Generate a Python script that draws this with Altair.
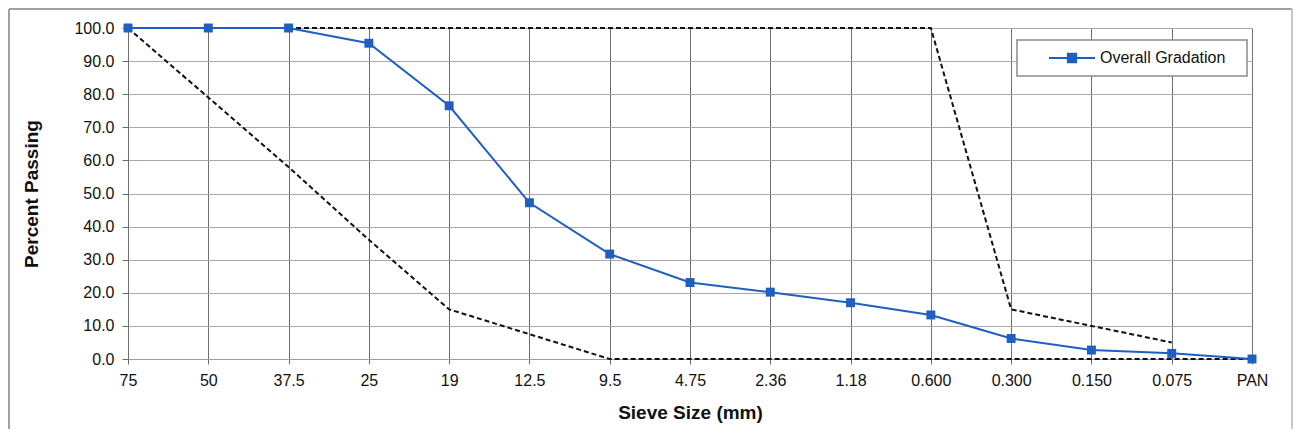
import altair as alt
import pandas as pd

# ---- data ----
sieves = ["75", "50", "37.5", "25", "19", "12.5", "9.5", "4.75", "2.36",
          "1.18", "0.600", "0.300", "0.150", "0.075", "PAN"]
overall = [100.0, 100.0, 100.0, 95.4, 76.5, 47.2, 31.7, 23.1, 20.2,
           17.0, 13.3, 6.2, 2.7, 1.7, 0.0]
upper_sieves = ["75", "50", "37.5", "25", "19", "12.5", "9.5", "4.75", "2.36",
                "1.18", "0.600", "0.300", "0.150", "0.075"]
upper_limit = [100, 100, 100, 100, 100, 100, 100, 100, 100, 100, 100, 15, 10, 5]
lower_sieves = sieves
lower_limit = [100, 79, 58, 36, 15, 7.5, 0, 0, 0, 0, 0, 0, 0, 0, 0]
y_ticks = [0, 10, 20, 30, 40, 50, 60, 70, 80, 90, 100]
series_name = "Overall Gradation"

BLUE = "#1f5fc0"
FONT = "Liberation Sans"

df_overall = pd.DataFrame({"sieve": sieves, "pct": overall, "series": series_name})
df_upper = pd.DataFrame({"sieve": upper_sieves, "pct": upper_limit})
df_lower = pd.DataFrame({"sieve": lower_sieves, "pct": lower_limit})
dummy = pd.DataFrame({"k": [0]})

x_enc = alt.X(
    "sieve:N",
    sort=sieves,
    scale=alt.Scale(type="point", domain=sieves, padding=0),
    axis=alt.Axis(
        title="Sieve Size (mm)",
        labelAngle=0,
        grid=True,
        gridColor="#6e6e6e",
        gridWidth=1,
        domainColor="#a8989e",
        tickColor="#6e6e6e",
        tickSize=5,
        labelPadding=8,
        titlePadding=15,
    ),
)
y_enc = alt.Y(
    "pct:Q",
    scale=alt.Scale(domain=[0, 100], nice=False, zero=True),
    axis=alt.Axis(
        title="Percent Passing",
        values=y_ticks,
        format=".1f",
        grid=True,
        gridColor="#b3a5aa",
        gridWidth=1,
        domainColor="#6e6e6e",
        tickColor="#6e6e6e",
        tickSize=6,
        labelPadding=8,
        titlePadding=32,
    ),
)

upper = alt.Chart(df_upper).mark_line(
    color="#111111", strokeWidth=2, strokeDash=[5, 3]
).encode(x=x_enc, y=y_enc)

lower = alt.Chart(df_lower).mark_line(
    color="#111111", strokeWidth=2, strokeDash=[5, 3]
).encode(x=x_enc, y=y_enc)

legend_box = alt.Chart(dummy).mark_rect(
    fill="white", stroke="#8a8a8a", strokeWidth=1.5
).encode(
    x=alt.value(889), x2=alt.value(1119), y=alt.value(12), y2=alt.value(48)
)

sym_path = "M-1,0L1,0M-0.18,-0.18L0.18,-0.18L0.18,0.18L-0.18,0.18Z"

main = alt.Chart(df_overall).mark_line(
    strokeWidth=2,
    point=alt.OverlayMarkDef(shape="square", filled=True, size=80, color=BLUE, opacity=1),
).encode(
    x=x_enc,
    y=y_enc,
    color=alt.Color(
        "series:N",
        scale=alt.Scale(domain=[series_name], range=[BLUE]),
        legend=alt.Legend(
            title=None,
            orient="none",
            legendX=920,
            legendY=6,
            padding=0,
            symbolType=sym_path,
            symbolSize=2116,
            symbolFillColor=BLUE,
            symbolStrokeColor=BLUE,
            symbolStrokeWidth=2,
            labelOffset=4,
            labelFontSize=16,
            labelFont=FONT,
            labelColor="#111111",
        ),
    ),
)

frame_top = alt.Chart(dummy).mark_rule(color="#a0a0a0", strokeWidth=2).encode(
    x=alt.value(-119), x2=alt.value(1164), y=alt.value(-19)
)
frame_left = alt.Chart(dummy).mark_rule(color="#a0a0a0", strokeWidth=2).encode(
    x=alt.value(-119), y=alt.value(-19), y2=alt.value(420)
)
frame_right = alt.Chart(dummy).mark_rule(color="#c8c8c8", strokeWidth=2).encode(
    x=alt.value(1164), y=alt.value(-19), y2=alt.value(420)
)

chart = alt.layer(
    upper, lower, legend_box, main, frame_top, frame_left, frame_right
).properties(
    width=1124,
    height=331,
    autosize=alt.AutoSizeParams(type="none"),
    padding={"left": 120, "top": 20, "right": 41, "bottom": 70},
    background="white",
).configure_view(
    stroke=None
).configure_axis(
    labelFont=FONT,
    labelFontSize=16,
    labelColor="#111111",
    titleFont=FONT,
    titleFontSize=19,
    titleFontWeight="bold",
    titleColor="#111111",
)

chart.save("out.html", embed_options={"renderer": "svg", "actions": False})
